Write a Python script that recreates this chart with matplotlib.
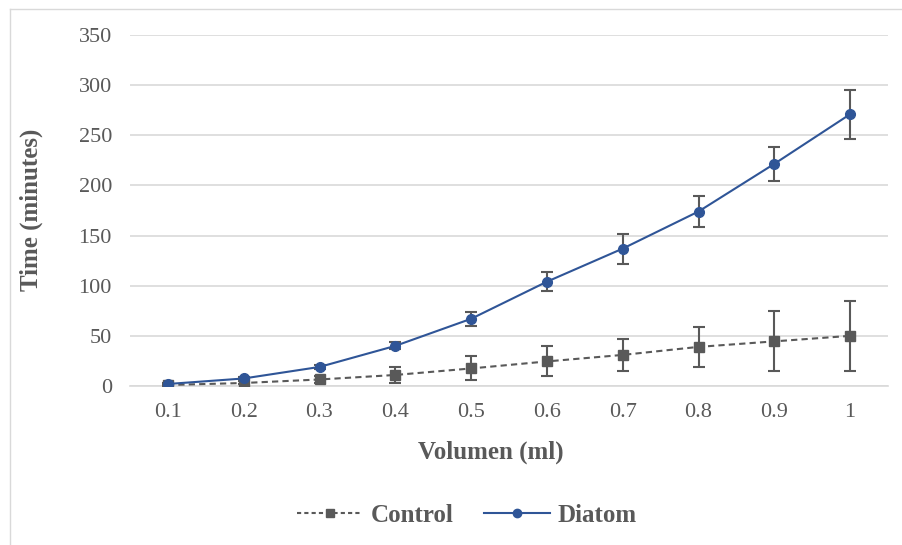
import matplotlib
matplotlib.use("Agg")
import matplotlib.pyplot as plt
from matplotlib.lines import Line2D

categories = ["0.1", "0.2", "0.3", "0.4", "0.5", "0.6", "0.7", "0.8", "0.9", "1"]
control = [1, 3, 6.5, 11, 17.5, 24.5, 31, 39, 44.5, 50]
control_err = [1, 1.5, 3.5, 8, 12, 15, 16, 20, 30, 35]
diatom = [2, 7.5, 19, 40, 67, 104, 137, 174, 221.5, 271]
diatom_err = [1, 1.5, 2, 3.5, 7, 9.5, 15, 15.5, 17, 24.5]
yticks = [0, 50, 100, 150, 200, 250, 300, 350]

W, H = 903, 545
fig = plt.figure(figsize=(W / 100, H / 100), dpi=100)
fig.patch.set_facecolor("white")
# outer chart border (top and left edges visible in the reference)
fig.lines.append(Line2D([10.5 / W, 1], [1 - 8.5 / H, 1 - 8.5 / H], transform=fig.transFigure,
                        color="#d9d9d9", linewidth=1))
fig.lines.append(Line2D([10.5 / W, 10.5 / W], [0, 1 - 8.5 / H], transform=fig.transFigure,
                        color="#d9d9d9", linewidth=1))

ax = fig.add_axes([130 / W, 1 - 386 / H, (888 - 130) / W, (386 - 35) / H])
x = list(range(len(categories)))
gray = "#595959"
blue = "#2F5597"
serif = "Liberation Serif"

ax.errorbar(x, control, yerr=control_err, color=gray, ecolor=gray, elinewidth=1.5, capsize=4,
            capthick=1.5, linestyle=(0, (3, 2)), linewidth=1.5, marker="s", markersize=7, zorder=3)
ax.errorbar(x, diatom, yerr=diatom_err, color=blue, ecolor=gray, elinewidth=1.5, capsize=4,
            capthick=1.5, linestyle="-", linewidth=1.5, marker="o", markersize=7, zorder=4)

ax.set_xlim(-0.5, len(categories) - 0.5)
ax.set_ylim(0, 350)
ax.set_yticks(yticks)
ax.set_yticklabels([str(v) for v in yticks])
ax.set_xticks(x)
ax.set_xticklabels(categories)
ax.grid(axis="y", color="#d9d9d9", linewidth=1.2)
ax.set_axisbelow(True)
for s in ["top", "right", "left"]:
    ax.spines[s].set_visible(False)
ax.spines["bottom"].set_color("#d9d9d9")
ax.spines["bottom"].set_linewidth(1.2)
ax.tick_params(axis="both", length=0, labelsize=16, labelcolor=gray)
ax.tick_params(axis="y", pad=13)
ax.tick_params(axis="x", pad=12)
for lab in ax.get_xticklabels() + ax.get_yticklabels():
    lab.set_fontfamily(serif)

fig.text(491 / W, 1 - 452 / H, "Volumen (ml)", ha="center", va="center", fontsize=18,
         fontweight="bold", color=gray, family=serif)
fig.text(31 / W, 1 - 210 / H, "Time (minutes)", ha="center", va="center", rotation=90,
         fontsize=18, fontweight="bold", color=gray, family=serif)

handles = [Line2D([], [], color=gray, linestyle=(0, (2, 1.5)), linewidth=1.5, marker="s", markersize=6),
           Line2D([], [], color=blue, linestyle="-", linewidth=1.5, marker="o", markersize=6)]
leg = fig.legend(handles, ["Control", "Diatom"], loc="center", bbox_to_anchor=(467 / W, 1 - 515 / H),
                 ncol=2, frameon=False, handlelength=2.6, columnspacing=1.25, handletextpad=0.32,
                 borderpad=0, prop={"family": serif, "weight": "bold", "size": 18})
for t in leg.get_texts():
    t.set_color(gray)

fig.savefig("out.png", dpi=100, facecolor="white")
